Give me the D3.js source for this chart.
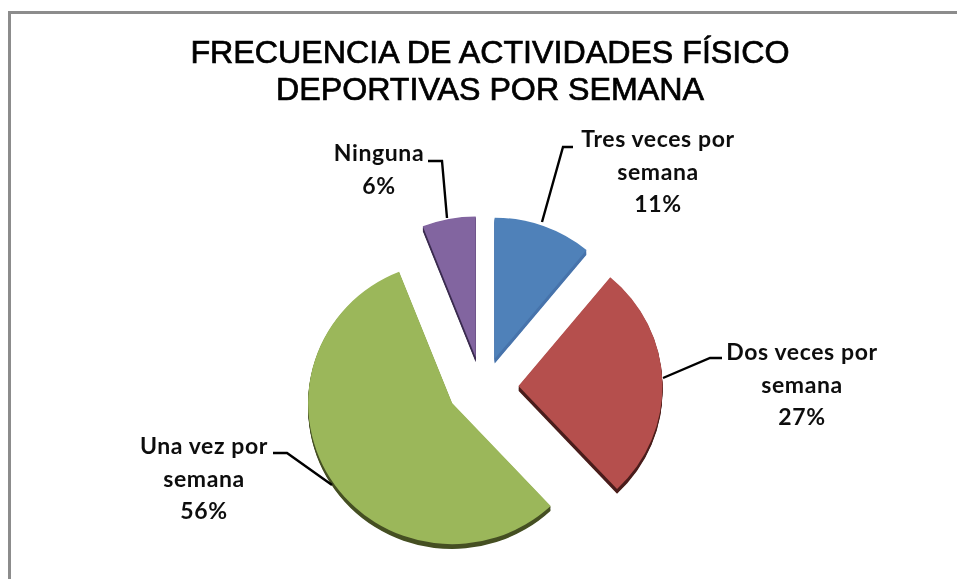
<!DOCTYPE html>
<html><head><meta charset="utf-8">
<style>html,body{margin:0;padding:0;background:#fff;overflow:hidden}svg{display:block}</style>
<script src="https://cdn.jsdelivr.net/npm/d3@7/dist/d3.min.js"></script></head>
<body><svg id="c" width="957" height="579"></svg>
<script>
const titleLines = ["FRECUENCIA DE ACTIVIDADES FÍSICO", "DEPORTIVAS POR SEMANA"];
const categories = ["Tres veces por semana", "Dos veces por semana", "Una vez por semana", "Ninguna"];
const values = [11, 27, 56, 6];
const labelLines = [["Tres veces por", "semana", "11%"], ["Dos veces por", "semana", "27%"], ["Una vez por", "semana", "56%"], ["Ninguna", "6%"]];
const colors = ["#4f81b9", "#b5504d", "#9bb75a", "#8265a0"];
const sideColors = ["#4673ab", "#4a1d1a", "#454f24", "#3b2c50"];
const labelCenters = [[658, 147], [802, 360], [204, 454], [379, 161]];
const leaders = [[[573, 147], [563, 147], [542, 222]], [[722, 358], [710, 358], [663, 378]], [[273, 453], [287, 453], [332, 485]], [[428, 161], [442, 161], [447, 218]]];

const svg = d3.select("#c");
const defs = svg.append("defs");
defs.append("filter").attr("id", "soft").append("feGaussianBlur").attr("stdDeviation", 0.4);

svg.append("path").attr("d", "M9.5,579V12.5H957").attr("fill", "none").attr("stroke", "#8c8c8c").attr("stroke-width", 3);

svg.append("g").attr("filter", "url(#soft)").selectAll("text").data(titleLines).join("text")
  .attr("x", 490).attr("y", (d, i) => 63 + i * 36.5).attr("text-anchor", "middle")
  .attr("font-family", "Liberation Sans").attr("font-size", 32.2).attr("fill", "#000")
  .attr("stroke", "#000").attr("stroke-width", 0.7).text(d => d);

const cx = 482.5, cy = 387, R = 144, squash = 0.98, explodeX = 36, explodeY = 30;
const pie = d3.pie().sort(null).value(d => d)(values);
const arc = d3.arc().innerRadius(0).outerRadius(R);
const depth = d3.range(1, 7);

const sl = svg.append("g").attr("filter", "url(#soft)").selectAll("g").data(pie).join("g").attr("transform", d => {
  const m = (d.startAngle + d.endAngle) / 2;
  return `translate(${cx + Math.sin(m) * explodeX},${cy - Math.cos(m) * explodeY})`;
});
sl.each(function (d, i) {
  const g = d3.select(this);
  depth.forEach(k => g.append("path").attr("d", arc(d)).attr("fill", sideColors[i])
    .attr("transform", `translate(0,${k * 0.8}) scale(1,${squash})`));
  g.append("path").attr("d", arc(d)).attr("fill", colors[i]).attr("transform", `scale(1,${squash})`);
});

const line = d3.line();
svg.append("g").selectAll("path").data(leaders).join("path").attr("d", line)
  .attr("fill", "none").attr("stroke", "#000").attr("stroke-width", 2.4);

labelLines.forEach((ls, i) => {
  svg.append("g").attr("filter", "url(#soft)").selectAll("text").data(ls).join("text")
    .attr("x", labelCenters[i][0]).attr("y", (d, j) => labelCenters[i][1] + j * 32.7)
    .attr("text-anchor", "middle").attr("font-family", "Lato").attr("font-weight", 700)
    .attr("font-size", 23).attr("letter-spacing", 0.6).attr("fill", "#111").text(d => d);
});
</script></body></html>
